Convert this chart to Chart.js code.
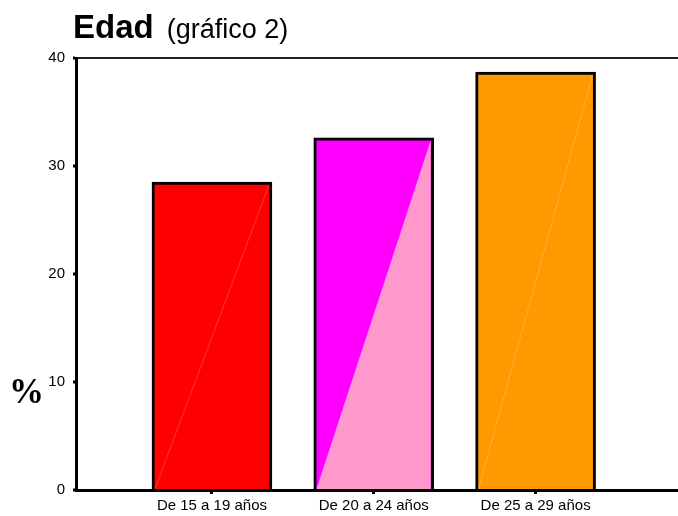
<!DOCTYPE html>
<html>
<head>
<meta charset="utf-8">
<script src="https://cdn.jsdelivr.net/npm/chart.js@4"></script>
<style>
  body { margin: 0; background: #fff; }
  #wrap { position: relative; width: 678px; height: 516px; }
  #title { position: absolute; left: 73px; top: 8px; font-family: "Liberation Sans", Arial, sans-serif; color: #000; white-space: nowrap; }
  #title b { font-size: 33px; }
  #title span { font-size: 27px; margin-left: 13px; }
  #ylab { position: absolute; left: 9px; top: 372px; font-family: "Liberation Serif", "Times New Roman", serif; font-weight: bold; font-size: 35px; color: #000; }
</style>
</head>
<body>
<div id="wrap">
  <canvas id="chart" width="678" height="516"></canvas>
  <div id="title"><b>Edad</b><span>(gráfico 2)</span></div>
  <div id="ylab">%</div>
</div>
<script>
// Data
const categories = ["De 15 a 19 años", "De 20 a 24 años", "De 25 a 29 años"];
const percents = [28.5, 32.6, 38.7];
const yTicks = [0, 10, 20, 30, 40];
const upperColors = ["#FF0000", "#FF00FF", "#FF9900"];
const lowerColors = ["#FF0000", "#FF99CC", "#FF9900"];

const points = categories.map((c, i) => ({ x: i + 1, y: percents[i] }));

// lower-right triangle of each bar in its second colour
const splitBars = {
  id: "splitBars",
  afterDatasetsDraw(chart) {
    const ctx = chart.ctx;
    const meta = chart.getDatasetMeta(0);
    const bw = 3;
    meta.data.forEach((bar, i) => {
      const left = bar.x - bar.width / 2 + bw;
      const right = bar.x + bar.width / 2 - bw;
      const top = bar.y + bw;
      const bottom = bar.base;
      ctx.save();
      ctx.beginPath();
      ctx.moveTo(left, bottom);
      ctx.lineTo(right, top);
      ctx.lineTo(right, bottom);
      ctx.closePath();
      ctx.fillStyle = lowerColors[i];
      ctx.fill();
      ctx.beginPath();
      ctx.moveTo(left, bottom);
      ctx.lineTo(right, top);
      ctx.strokeStyle = "rgba(255,255,255,0.35)";
      ctx.lineWidth = 0.6;
      ctx.stroke();
      ctx.restore();
    });
  }
};

new Chart(document.getElementById("chart").getContext("2d"), {
  type: "bar",
  data: {
    datasets: [{
      data: points,
      backgroundColor: upperColors,
      borderColor: "#000",
      borderWidth: 3,
      borderSkipped: "start",
      barThickness: 120
    }]
  },
  options: {
    responsive: false,
    animation: false,
    layout: { padding: { top: 58, right: 0, left: 0, bottom: 0 } },
    plugins: { legend: { display: false }, tooltip: { enabled: false } },
    scales: {
      x: {
        type: "linear",
        offset: false,
        min: 0.16,
        max: 3.88,
        afterBuildTicks: (scale) => {
          scale.ticks = categories.map((c, i) => ({ value: i + 1 }));
        },
        afterFit: (scale) => { scale.height = 26; },
        ticks: {
          callback: (v) => categories[v - 1],
          color: "#000",
          font: { family: "Liberation Sans", size: 15 },
          padding: 3,
          maxRotation: 0,
          autoSkip: false
        },
        grid: { offset: false, drawOnChartArea: false, tickLength: 4, tickColor: "#000", tickWidth: 3 },
        border: { color: "#000", width: 3 }
      },
      y: {
        min: 0,
        max: 40,
        afterBuildTicks: (scale) => {
          scale.ticks = yTicks.map(v => ({ value: v }));
        },
        afterFit: (scale) => { scale.width = 76; },
        ticks: {
          color: "#000",
          font: { family: "Liberation Sans", size: 15 },
          padding: 8
        },
        grid: {
          color: (c) => c.tick && c.tick.value === 40 ? "#222" : "rgba(0,0,0,0)",
          lineWidth: 2,
          tickLength: 3,
          tickColor: "#000",
          tickWidth: 3
        },
        border: { color: "#000", width: 3 }
      }
    }
  },
  plugins: [splitBars]
});
</script>
</body>
</html>
